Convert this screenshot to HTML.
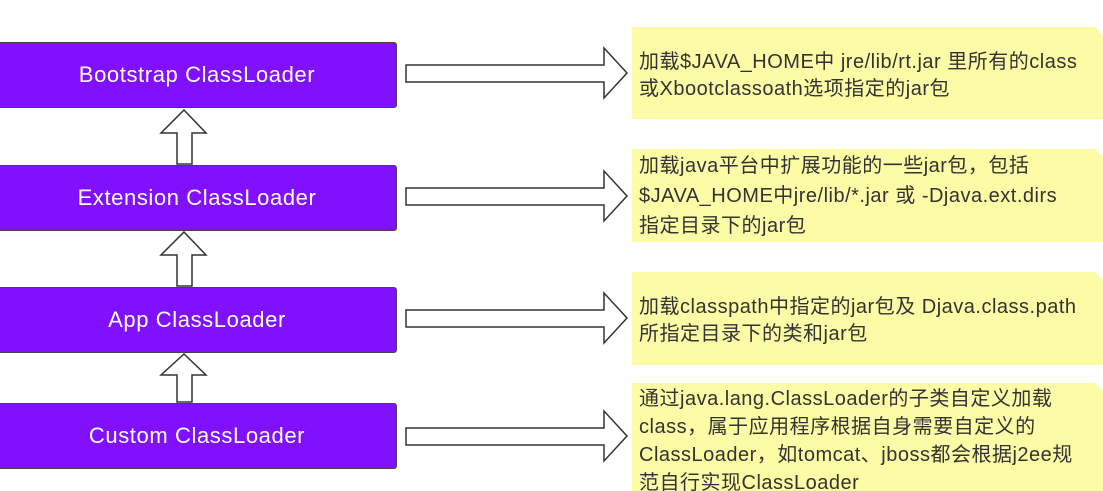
<!DOCTYPE html>
<html><head><meta charset="utf-8"><style>
body{margin:0;width:1103px;height:491px;background:#fff;position:relative;overflow:hidden;font-family:"Liberation Sans","Noto Sans CJK SC",sans-serif}
.b{position:absolute;left:-3px;width:400px;height:66px;background:#8010fe;border:1px solid #444;border-radius:3px;color:#fff;font-size:22px;letter-spacing:0.6px;display:flex;align-items:center;justify-content:center;box-sizing:border-box}
.n{position:absolute;left:632px;width:471px;background:#fdfca6;color:#333;font-size:20px;letter-spacing:0.5px;line-height:27px;padding:8px 0 0 7px;box-sizing:border-box;white-space:nowrap;overflow:hidden}
.n::after{content:"";position:absolute;right:0;top:0;border-style:solid;border-width:0 8px 8px 0;border-color:transparent #fff transparent transparent}
svg{position:absolute;left:0;top:0}
</style></head><body>
<div class="b" style="top:42px">Bootstrap ClassLoader</div>
<div class="b" style="top:165px">Extension ClassLoader</div>
<div class="b" style="top:287px">App ClassLoader</div>
<div class="b" style="top:403px">Custom ClassLoader</div>
<svg width="1103" height="491">
<g fill="#fff" stroke="#333" stroke-width="1.5">
<path d="M406,65 H604 V48 L627,73 L604,98 V82 H406 Z"/>
<path d="M406,188 H604 V171 L627,196 L604,221 V205 H406 Z"/>
<path d="M406,310 H604 V293 L627,318 L604,343 V327 H406 Z"/>
<path d="M406,428 H604 V411 L627,436 L604,461 V445 H406 Z"/>
<path d="M184,110 L206,133 H192 V164 H177 V133 H161 Z"/>
<path d="M184,232 L206,255 H192 V286 H177 V255 H161 Z"/>
<path d="M184,354 L206,375 H192 V402 H177 V375 H161 Z"/>
</g>
</svg>
<div class="n" style="top:27px;height:92px;padding-top:22px">加载$JAVA_HOME中 jre/lib/rt.jar 里所有的class<br>或Xbootclassoath选项指定的jar包</div>
<div class="n" style="top:149px;height:93px;padding-top:2px;line-height:30px">加载java平台中扩展功能的一些jar包，包括<br>$JAVA_HOME中jre/lib/*.jar 或 -Djava.ext.dirs<br>指定目录下的jar包</div>
<div class="n" style="top:272px;height:93px;padding-top:22px">加载classpath中指定的jar包及 Djava.class.path<br>所指定目录下的类和jar包</div>
<div class="n" style="top:383px;height:108px;padding-top:2px;line-height:28px">通过java.lang.ClassLoader的子类自定义加载<br>class，属于应用程序根据自身需要自定义的<br>ClassLoader，如tomcat、jboss都会根据j2ee规<br>范自行实现ClassLoader</div>
</body></html>
